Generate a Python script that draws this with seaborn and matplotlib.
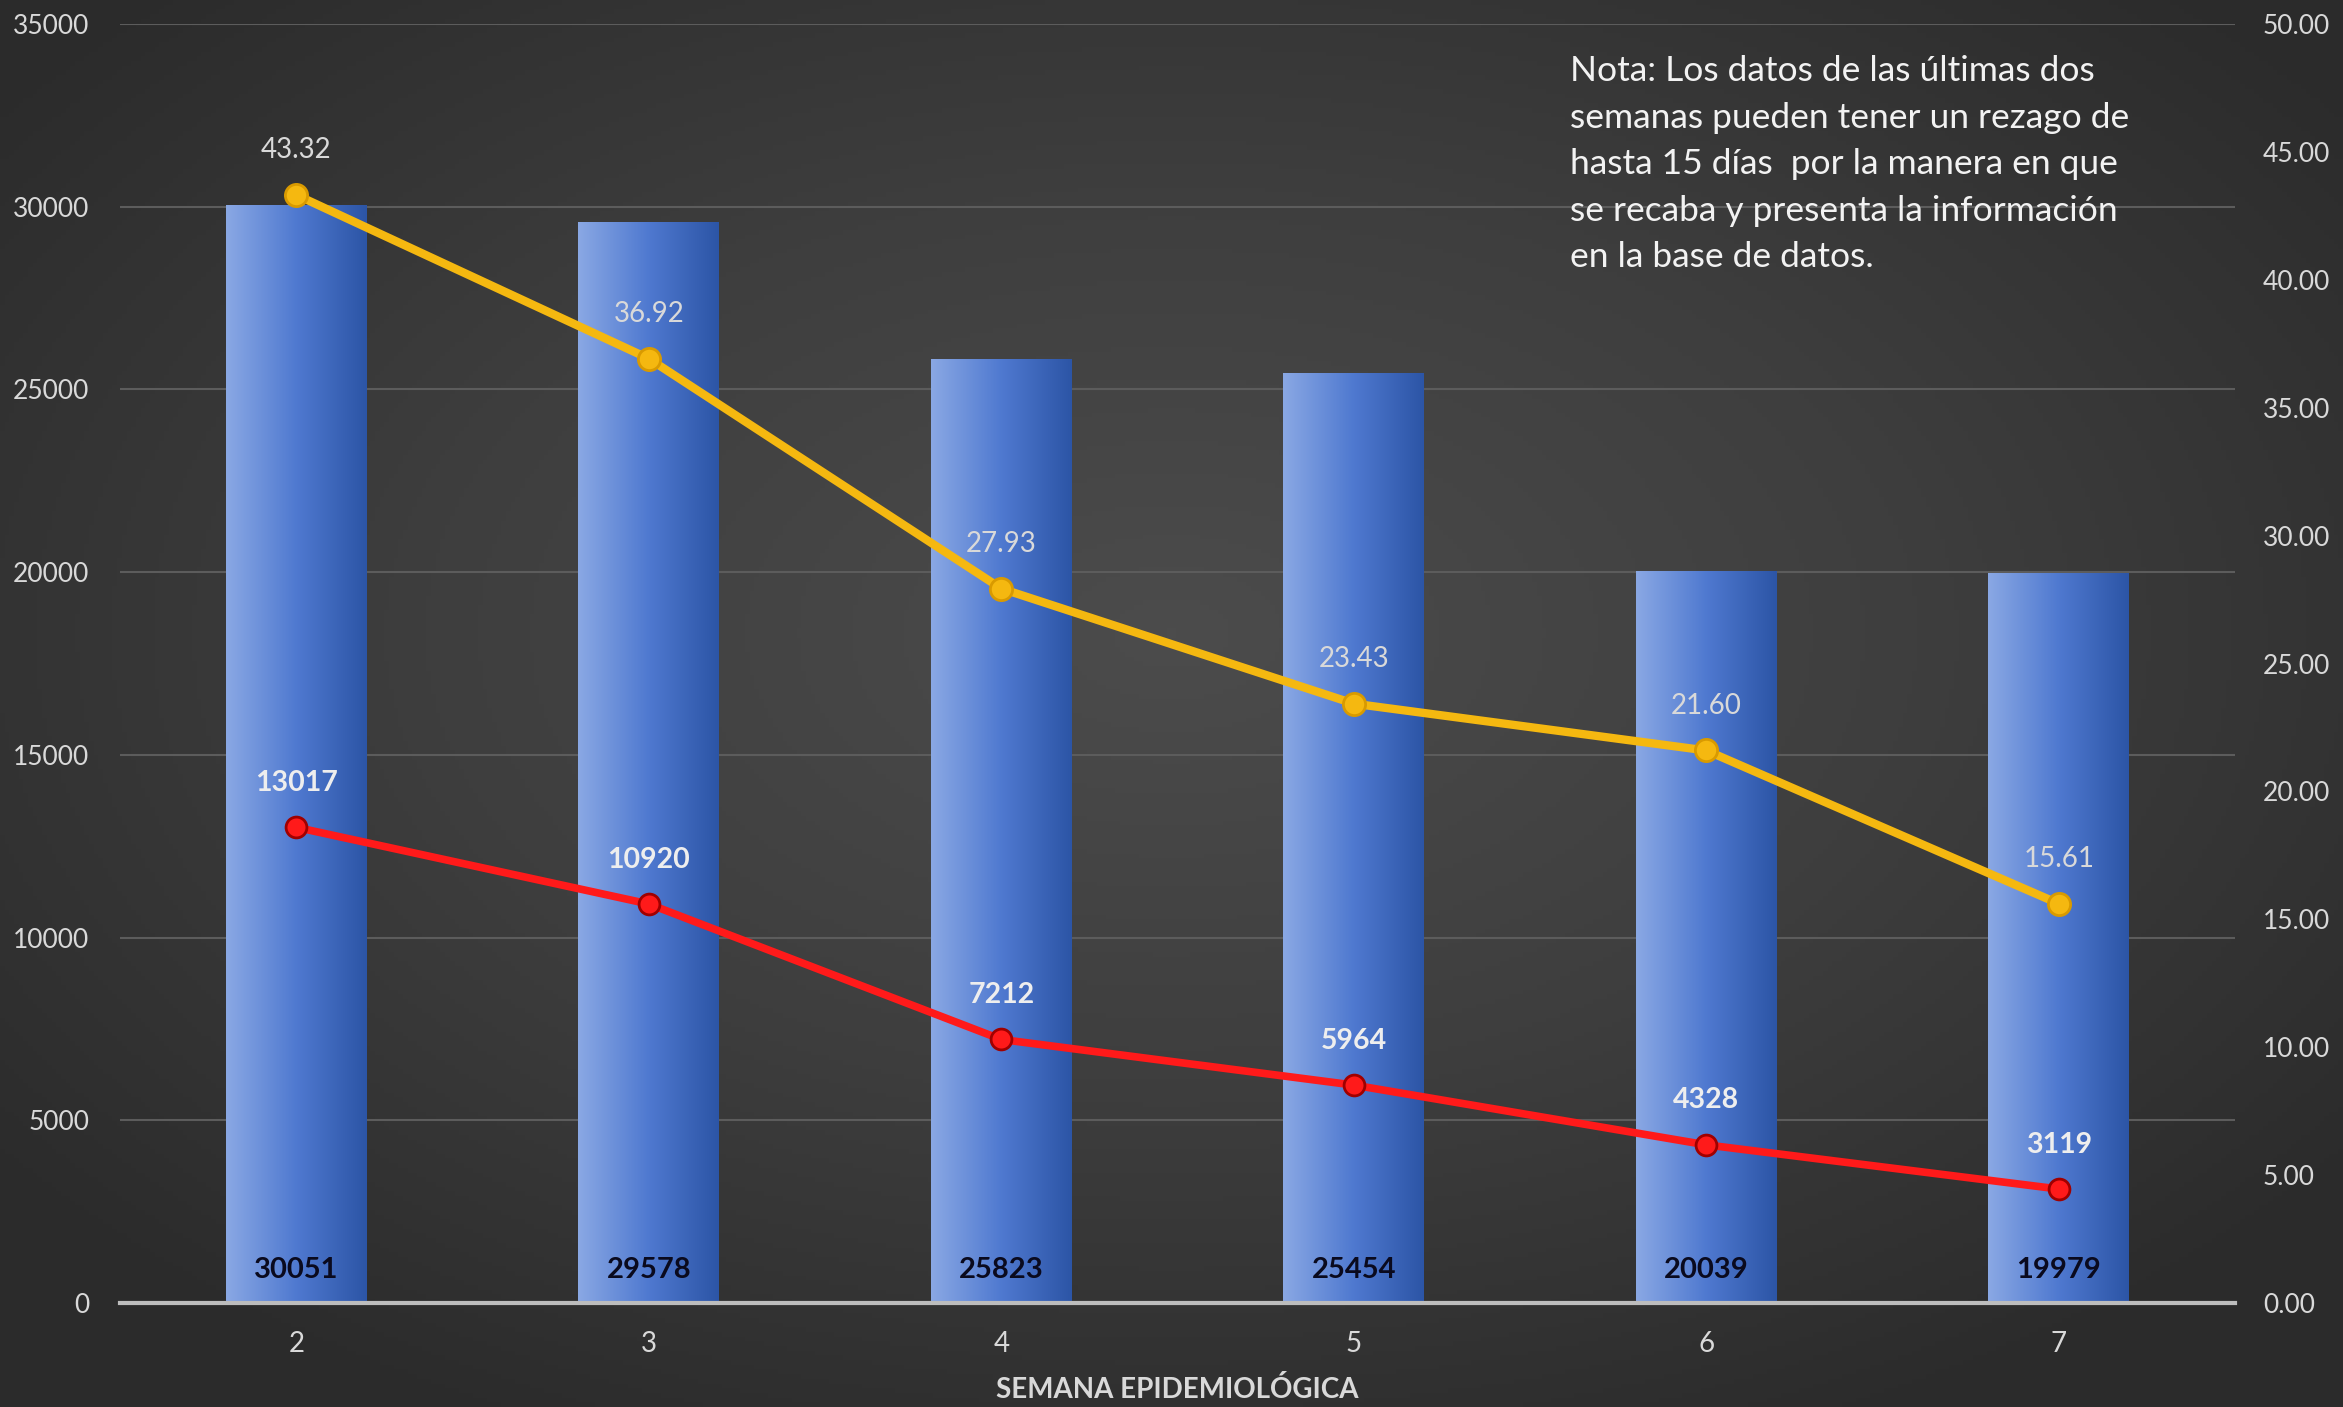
import numpy as np
import pandas as pd
import matplotlib
matplotlib.use("Agg")
import matplotlib.pyplot as plt
from matplotlib.colors import LinearSegmentedColormap
import seaborn as sns

# ---- data ----
semanas = ["2", "3", "4", "5", "6", "7"]
barras = [30051, 29578, 25823, 25454, 20039, 19979]
linea_roja = [13017, 10920, 7212, 5964, 4328, 3119]
linea_amarilla = [43.32, 36.92, 27.93, 23.43, 21.60, 15.61]
ticks_izq = [0, 5000, 10000, 15000, 20000, 25000, 30000, 35000]
ticks_der = [0, 5, 10, 15, 20, 25, 30, 35, 40, 45, 50]
xlabel = "SEMANA EPIDEMIOLÓGICA"
nota = ("Nota: Los datos de las últimas dos\n"
        "semanas pueden tener un rezago de\n"
        "hasta 15 días  por la manera en que\n"
        "se recaba y presenta la información\n"
        "en la base de datos.")

df = pd.DataFrame({"semana": semanas, "barras": barras,
                   "roja": linea_roja, "amarilla": linea_amarilla})

sns.set_theme(style="dark")
plt.rcParams["font.family"] = ["Lato", "DejaVu Sans"]

W, H = 2343, 1407
fig = plt.figure(figsize=(W / 100, H / 100), dpi=100)

# background radial gradient
bg = fig.add_axes([0, 0, 1, 1], zorder=-10)
yy, xx = np.mgrid[0:1:300j, 0:1:500j]
r = np.sqrt(((xx - 0.5) / 0.75) ** 2 + ((yy - 0.55) / 0.75) ** 2)
bg_cmap = LinearSegmentedColormap.from_list("bg", ["#4c4c4c", "#3e3e3e", "#2b2b2b"])
bg.imshow(r, cmap=bg_cmap, extent=[0, 1, 0, 1], aspect="auto", origin="lower",
          vmin=0, vmax=0.85)
bg.set_axis_off()

ax = fig.add_axes([120 / W, 104 / H, (2235 - 120) / W, (1303 - 24) / H])
ax.set_facecolor("none")
ax.patch.set_alpha(0)

sns.barplot(data=df, x="semana", y="barras", ax=ax, color="#4a73c9",
            width=0.40, saturation=1, zorder=2)

# gradient fill for bars
bar_cmap = LinearSegmentedColormap.from_list("bar", ["#8aa8e4", "#4f79d0", "#2c55a6"])
grad = np.linspace(0, 1, 256).reshape(1, -1)
for p in list(ax.patches):
    x0, y0 = p.get_x(), p.get_y()
    w, h = p.get_width(), p.get_height()
    im = ax.imshow(grad, cmap=bar_cmap, extent=[x0, x0 + w, y0, y0 + h],
                   aspect="auto", zorder=2.1, origin="lower")
    im.set_clip_path(p)
    p.set_edgecolor("none")

sns.pointplot(data=df, x="semana", y="roja", ax=ax, color="#ff1a1a",
              markers="o", linestyles="-", markersize=15, linewidth=5.5,
              markeredgecolor="#a00000", markeredgewidth=2, zorder=5)

ax.set_xlim(-0.5, len(semanas) - 0.5)
ax.set_ylim(0, 35000)
ax.set_yticks(ticks_izq)
ax.set_yticklabels([str(t) for t in ticks_izq])
ax.grid(axis="y", color="#5c5c5c", linewidth=1.5, zorder=0)
ax.grid(axis="x", visible=False)
ax.set_axisbelow(True)
for s in ["top", "left", "right"]:
    ax.spines[s].set_visible(False)
ax.spines["bottom"].set_color("#bdbdbd")
ax.spines["bottom"].set_linewidth(3)
ax.spines["bottom"].set_zorder(6)
ax.tick_params(axis="y", colors="#d9d9d9", labelsize=19, length=0, pad=22)
ax.tick_params(axis="x", colors="#d9d9d9", labelsize=20, length=0, pad=20)
ax.set_ylabel("")

ax2 = ax.twinx()
ax2.set_facecolor("none")
sns.pointplot(data=df, x="semana", y="amarilla", ax=ax2, color="#f5b810",
              markers="o", linestyles="-", markersize=16, linewidth=6,
              markeredgecolor="#d99a00", markeredgewidth=2)
ax2.set_xlim(-0.5, len(semanas) - 0.5)
ax2.set_ylim(0, 50)
ax2.set_yticks(ticks_der)
ax2.set_yticklabels([f"{t:.2f}" for t in ticks_der])
ax2.grid(False)
for s in ["top", "left", "right", "bottom"]:
    ax2.spines[s].set_visible(False)
ax2.tick_params(axis="y", colors="#d9d9d9", labelsize=19, length=0, pad=20)
ax2.set_ylabel("")
ax2.set_xlabel("")

ax.set_xlabel(xlabel, color="#d9d9d9", fontsize=20, fontweight="bold", labelpad=14)

# labels
for i, v in enumerate(linea_amarilla):
    ax2.annotate(f"{v:.2f}", (i, v), xytext=(0, 32), textcoords="offset points",
                 ha="center", va="center", color="#d9d9d9", fontsize=20)
for i, v in enumerate(linea_roja):
    ax2.annotate(f"{v}", (i, v * 50 / 35000), xytext=(0, 32), textcoords="offset points",
                 ha="center", va="center", color="#eeeeee", fontsize=20.5,
                 fontweight="bold")
for i, v in enumerate(barras):
    ax.annotate(f"{v}", (i, 0), xytext=(0, 24), textcoords="offset points",
                ha="center", va="center", color="#0a0a1e", fontsize=21,
                fontweight="bold", zorder=7)

fig.text(1570 / W, 1 - 55 / H, nota, ha="left", va="top", color="#f2f2f2",
         fontsize=25.5, linespacing=1.56)

fig.savefig("out.png", dpi=100)
